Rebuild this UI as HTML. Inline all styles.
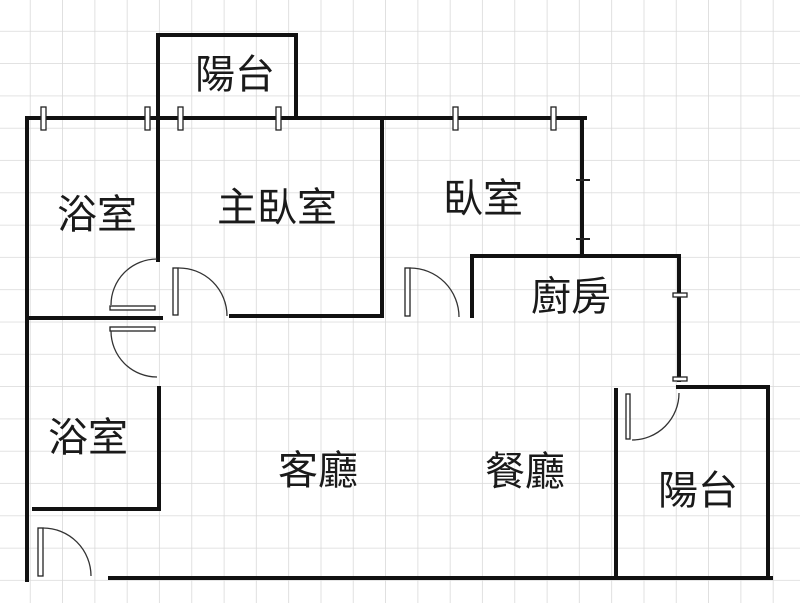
<!DOCTYPE html>
<html><head><meta charset="utf-8"><style>
html,body{margin:0;padding:0;background:#fff}
svg{display:block}
text{font-family:"Liberation Sans","Noto Sans CJK TC",sans-serif;font-size:40px;fill:#1a1a1a;text-anchor:middle;dominant-baseline:central}
</style></head><body>
<svg width="800" height="603" viewBox="0 0 800 603" xmlns="http://www.w3.org/2000/svg">
<defs>
<pattern id="g" x="-1.6" y="-0.6" width="32.3" height="32.3" patternUnits="userSpaceOnUse">
<path d="M32.3 0V32.3M0 32.3H32.3" stroke="#d9d9d9" stroke-width="1.6" fill="none"/>
</pattern>
</defs>
<rect width="800" height="603" fill="#fff"/>
<rect width="800" height="603" fill="url(#g)"/>
<g stroke="#111" stroke-width="4" fill="none" stroke-linecap="square">
<path d="M30 118H585"/>
<path d="M27 118V580"/>
<path d="M158 260V35H296V118"/>
<path d="M30 318H161"/>
<path d="M231 316H382V118"/>
<path d="M582 118V256"/>
<path d="M472 316V256H679V380"/>
<path d="M159 388V509H34"/>
<path d="M110 578H771"/>
<path d="M678 387H768V578"/>
<path d="M616 390V578"/>
</g>
<g fill="#fff" stroke="#222" stroke-width="1.3">
<rect x="41" y="107" width="5" height="23"/>
<rect x="145" y="107" width="5" height="23"/>
<rect x="178" y="107" width="5" height="23"/>
<rect x="276" y="107" width="5" height="23"/>
<rect x="453" y="107" width="5" height="23"/>
<rect x="551" y="107" width="5" height="23"/>
<rect x="673" y="293" width="14" height="4"/>
<rect x="673" y="377" width="14" height="4"/>
<rect x="110" y="306" width="45" height="4"/>
<rect x="173" y="268" width="5" height="47"/>
<rect x="110" y="327" width="45" height="4"/>
<rect x="405" y="268" width="5" height="48"/>
<rect x="38" y="528" width="5" height="48"/>
<rect x="626" y="394" width="4" height="45"/>
</g>
<g stroke="#222" stroke-width="2" fill="none">
<path d="M576 180H590M576 239H590"/>
</g>
<g stroke="#333" stroke-width="1.3" fill="none">
<path d="M157 259A46 46 0 0 0 111 305"/>
<path d="M178 268A48 48 0 0 1 227 316"/>
<path d="M111 331A46 46 0 0 0 157 377"/>
<path d="M410 268A49 49 0 0 1 459 317"/>
<path d="M43 528A48 48 0 0 1 91 576"/>
<path d="M679 393A47 47 0 0 1 632 440"/>
</g>
<text x="235" y="75">陽台</text>
<text x="97" y="215">浴室</text>
<text x="277" y="208">主臥室</text>
<text x="483" y="199">臥室</text>
<text x="571" y="297">廚房</text>
<text x="88" y="438">浴室</text>
<text x="318" y="471">客廳</text>
<text x="525" y="472">餐廳</text>
<text x="698" y="491">陽台</text>
</svg>
</body></html>
